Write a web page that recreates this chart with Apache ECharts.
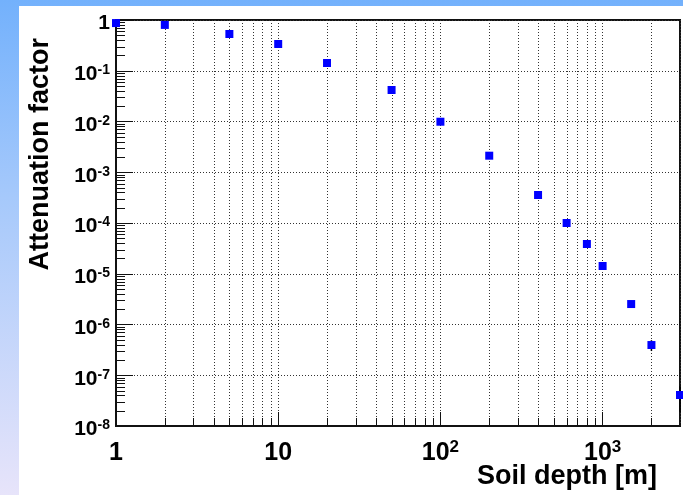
<!DOCTYPE html>
<html><head><meta charset="utf-8">
<script src="https://cdn.jsdelivr.net/npm/echarts@6/dist/echarts.min.js"></script>
<style>
html,body{margin:0;padding:0;width:683px;height:495px;overflow:hidden;
background:linear-gradient(to bottom,#73b1fc 0%,#a6c9fb 40%,#e7e4fa 100%);}
#chart{position:absolute;left:19px;top:6px;width:664px;height:489px;background:#fff;}
</style></head><body><div id="chart"></div>
<script>
// ---- data ----
const depths      = [1, 2, 5, 10, 20, 50, 100, 200, 400, 600, 800, 1000, 1500, 2000, 3000];
const attenuation = [0.87, 0.80, 0.53, 0.337, 0.142, 0.0418, 0.0099, 0.00212, 3.56e-4, 1.0e-4, 3.86e-5, 1.42e-5, 2.53e-6, 3.94e-7, 4.08e-8];
const errDepths   = [2000, 3000];
const errLow      = [3.0e-7, 1.9e-8];
const errHigh     = [4.9e-7, 6.1e-8];
// axis structure
const xMin = 1, xMax = 3000, yMin = 1e-8, yMax = 1;
const mantissas = [2, 3, 4, 5, 6, 7, 8, 9];
const xDecades = [1, 10, 100, 1000];
const yDecades = [1e-8, 1e-7, 1e-6, 1e-5, 1e-4, 1e-3, 1e-2, 1e-1];
const xLabelText = {0: '{b|1}', 1: '{b|10}', 2: '{b|10}{s|2}', 3: '{b|10}{s|3}'};
const yLabelText = {0: '{b|1}', '-1': '{b|10}{s|-1}', '-2': '{b|10}{s|-2}', '-3': '{b|10}{s|-3}', '-4': '{b|10}{s|-4}',
  '-5': '{b|10}{s|-5}', '-6': '{b|10}{s|-6}', '-7': '{b|10}{s|-7}', '-8': '{b|10}{s|-8}'};
const xTitle = 'Soil depth [m]';
const yTitle = 'Attenuation factor';

const xMinor = [];
xDecades.forEach(d => mantissas.forEach(m => { const v = m * d; if (v < xMax) xMinor.push(v); }));
const yMinor = [];
yDecades.forEach(d => mantissas.forEach(m => yMinor.push(m * d)));

const FONT = "'Liberation Sans', Arial, Helvetica, sans-serif";
const chart = echarts.init(document.getElementById('chart'));

function logLabel(map) {
  return function (v) {
    const l = Math.log10(v), e = Math.round(l);
    if (Math.abs(l - e) > 1e-6) return '';
    return map[e] || '';
  };
}

const gridStyle = {color: '#333', width: 1, type: [1, 2]};

chart.setOption({
  animation: false,
  grid: {left: 97, top: 14, right: 3, bottom: 69, show: true, borderColor: '#111', borderWidth: 2, backgroundColor: 'transparent'},
  xAxis: {
    type: 'log', logBase: 10, min: xMin, max: xMax,
    axisLine: {show: true, lineStyle: {color: '#111', width: 2}},
    axisTick: {show: true, inside: true, length: 14, lineStyle: {color: '#111', width: 1}},
    splitLine: {show: true, lineStyle: gridStyle},
    axisLabel: {margin: 13, formatter: logLabel(xLabelText), showMaxLabel: false,
      rich: {
        b: {fontFamily: FONT, fontWeight: 'bold', fontSize: 25, color: '#000', lineHeight: 28},
        s: {fontFamily: FONT, fontWeight: 'bold', fontSize: 17, color: '#000', lineHeight: 17, verticalAlign: 'top'}
      }}
  },
  yAxis: {
    type: 'log', logBase: 10, min: yMin, max: yMax, splitNumber: 8,
    axisLine: {show: true, lineStyle: {color: '#111', width: 2}},
    axisTick: {show: true, inside: true, length: 17, lineStyle: {color: '#111', width: 1}},
    splitLine: {show: true, lineStyle: gridStyle},
    axisLabel: {margin: 6, formatter: logLabel(yLabelText), padding: [7, 0, 0, 0],
      rich: {
        b: {fontFamily: FONT, fontWeight: 'bold', fontSize: 21, color: '#000', lineHeight: 22},
        s: {fontFamily: FONT, fontWeight: 'bold', fontSize: 14, color: '#000', lineHeight: 14, verticalAlign: 'top'}
      }}
  },
  graphic: [
    {type: 'text', x: 22, y: 32, rotation: Math.PI / 2,
     style: {text: yTitle, font: 'bold 27px ' + FONT, fill: '#000', align: 'right', verticalAlign: 'middle'}},
    {type: 'text', x: 638, y: 471,
     style: {text: xTitle, font: 'bold 27px ' + FONT, fill: '#000', align: 'right', verticalAlign: 'middle'}}
  ],
  series: [
    {
      type: 'custom', silent: true, clip: false, z: 1,
      data: xMinor.map(v => [v, yMin]),
      renderItem: function (params, api) {
        const v = api.value(0);
        const b = api.coord([v, yMin]), t = api.coord([v, yMax]);
        const x = Math.round(b[0]) + 0.5;
        return {type: 'group', children: [
          {type: 'line', shape: {x1: x, y1: b[1], x2: x, y2: t[1]}, style: {stroke: '#333', lineWidth: 1, lineDash: [1, 2]}},
          {type: 'line', shape: {x1: x, y1: b[1], x2: x, y2: b[1] - 8}, style: {stroke: '#111', lineWidth: 1}}
        ]};
      }
    },
    {
      type: 'custom', silent: true, clip: false, z: 1,
      data: yMinor.map(v => [xMin, v]),
      renderItem: function (params, api) {
        const v = api.value(1);
        const l = api.coord([xMin, v]);
        const y = Math.round(l[1]) + 0.5;
        return {type: 'line', shape: {x1: l[0], y1: y, x2: l[0] + 9, y2: y}, style: {stroke: '#111', lineWidth: 1}};
      }
    },
    {
      type: 'custom', silent: true, clip: false, z: 3,
      data: errDepths.map((d, i) => [d, errLow[i], errHigh[i]]),
      renderItem: function (params, api) {
        const lo = api.coord([api.value(0), api.value(1)]);
        const hi = api.coord([api.value(0), api.value(2)]);
        return {type: 'line', shape: {x1: lo[0], y1: lo[1], x2: hi[0], y2: hi[1]}, style: {stroke: '#000', lineWidth: 1.5}};
      }
    },
    {
      type: 'scatter', symbol: 'rect', symbolSize: 8, clip: false, z: 4,
      itemStyle: {color: '#0000ff', opacity: 1},
      data: depths.map((d, i) => [d, attenuation[i]])
    }
  ]
});
</script></body></html>
